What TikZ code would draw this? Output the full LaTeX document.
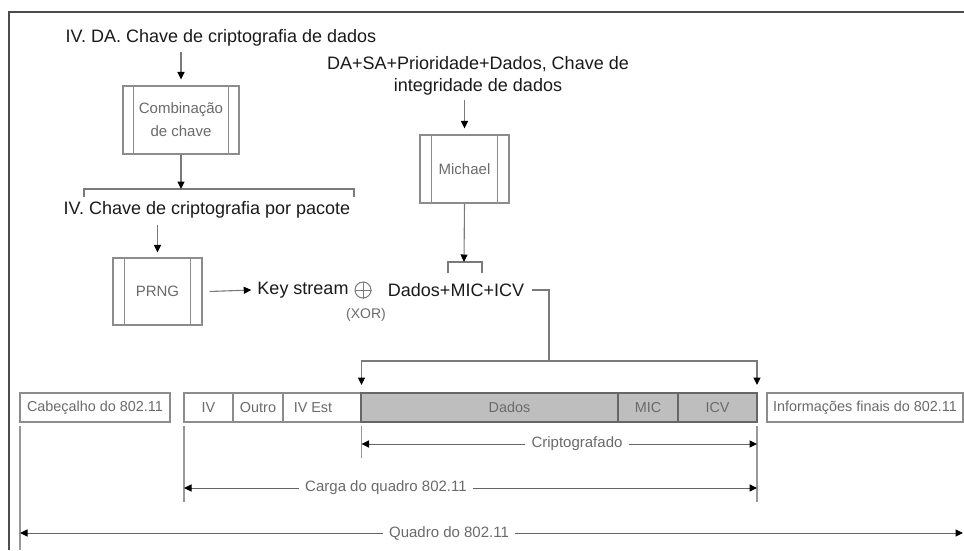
\documentclass[tikz,border=0pt]{standalone}
\usepackage{fontspec}
\setmainfont{Liberation Sans}
\usetikzlibrary{arrows.meta,calc}
\definecolor{linegray}{HTML}{7A7A7A}
\definecolor{boxgray}{HTML}{8C8C8C}
\definecolor{txtgray}{HTML}{6A6A6A}
\definecolor{fillgray}{HTML}{BEBEBE}
\definecolor{ink}{HTML}{1A1A1A}
\begin{document}
\begin{tikzpicture}[x=1pt,y=-1pt,
  tip/.style={-{Triangle[length=7.5pt,width=7pt,color=black]}},
  title/.style={font=\fontsize{18}{22}\selectfont, text=ink, inner sep=0pt, align=center},
  proc/.style={draw=boxgray, line width=1.1pt, text=txtgray,
    font=\fontsize{15}{23}\selectfont, align=center, inner sep=0pt},
  field/.style={draw=boxgray, line width=1.1pt, minimum height=29pt, inner sep=0pt,
    text=txtgray, font=\fontsize{14.4}{16}\selectfont},
  enc/.style={field, fill=fillgray, draw=black!60},
  conn/.style={draw=linegray, line width=1.1pt},
  tick/.style={draw=black!40, line width=1.6pt},
  dimline/.style={draw=black!60, line width=1pt},
  dimtext/.style={text=txtgray, font=\fontsize{15}{17}\selectfont, inner sep=6pt}
]
\useasboundingbox (0,0) rectangle (964,550);

% outer frame (top and left edges)
\draw[black!70, line width=1.3pt] (9,550) -- (9,12) -- (964,12);

% ---- key mixing branch ----
\node[title] (t1) at (221,38) {IV. DA. Chave de criptografia de dados};
\node[proc, minimum width=116pt, minimum height=68pt] (comb) at (181,120) {Combinação\\de chave};
\draw[boxgray, line width=1.1pt] ([xshift=11pt]comb.north west) -- ([xshift=11pt]comb.south west)
  ([xshift=-11pt]comb.north east) -- ([xshift=-11pt]comb.south east);
\draw[conn,tip,shorten >=6pt] ([yshift=-5pt]comb.north |- t1.south) -- (comb.north);

\coordinate (bk) at (181,189);
\coordinate (bkl) at (84,197);
\coordinate (bkr) at (354,197);
\draw[conn] (bkl) |- (bk) -| (bkr);
\draw[conn,tip] (comb.south) -- (bk);

\node[title] (t3) at (207,210) {IV. Chave de criptografia por pacote};
\node[proc, minimum width=89pt, minimum height=67pt] (prng) at (157.5,291.5) {PRNG};
\draw[boxgray, line width=1.1pt] ([xshift=12pt]prng.north west) -- ([xshift=12pt]prng.south west)
  ([xshift=-12pt]prng.north east) -- ([xshift=-12pt]prng.south east);
\draw[conn,tip,shorten >=5pt] ([yshift=-6pt]prng.north |- t3.south) -- (prng.north);

% ---- keystream XOR ----
\node[title] (ks) at (303,290) {Key stream};
\node[circle, draw=linegray, line width=1pt, minimum size=16pt, inner sep=0pt] (xor) at (363,290) {};
\draw[linegray, line width=1pt] (xor.north) -- (xor.south) (xor.west) -- (xor.east);
\node[text=txtgray, font=\fontsize{14}{16}\selectfont, inner sep=0pt] (xorlbl) at (366,315) {(XOR)};
\node[title] (dmi) at (456,290) {Dados+MIC+ICV};
\draw[conn,tip] ([xshift=7pt]prng.east) -- ([xshift=-6pt]ks.west);

% ---- MIC branch ----
\node[title] (t2) at (478,76) {DA+SA+Prioridade+Dados, Chave de\\integridade de dados};
\node[proc, minimum width=89pt, minimum height=68pt] (mich) at (464.5,169) {Michael};
\draw[boxgray, line width=1.1pt] ([xshift=12pt]mich.north west) -- ([xshift=12pt]mich.south west)
  ([xshift=-12pt]mich.north east) -- ([xshift=-12pt]mich.south east);
\draw[conn,tip,shorten >=6pt] ([yshift=-4pt]mich.north |- t2.south) -- (mich.north);
\coordinate (mb) at (464,262);
\coordinate (mbl) at (448,273);
\coordinate (mbr) at (482,273);
\draw[conn] (mbl) |- (mb) -| (mbr);
\draw[conn,tip] (mich.south) -- (mb);

% ---- route to encrypted part ----
\coordinate (split) at (549,361);
\coordinate (encL) at (361.5,385);
\coordinate (encR) at (757,385);
\draw[conn] ([xshift=8pt]dmi.east) -| (split);
\draw[conn,tip] (split) -| (encL);
\draw[conn,tip] (split) -| (encR);

% ---- 802.11 frame ----
\node[field, minimum width=150pt] (hdr) at (95,407.5) {Cabeçalho do 802.11};
\node[field, minimum width=49pt] (iv) at (208.5,407.5) {IV};
\node[field, minimum width=50pt] (outro) at (258,407.5) {Outro};
\node[field, minimum width=78pt] (ivest) at (322,407.5) {\hspace*{-18pt}IV Est};
\node[enc, minimum width=257pt] (dados) at (489.5,407.5) {\hspace*{40pt}Dados};
\node[enc, minimum width=60pt] (mic) at (648,407.5) {MIC};
\node[enc, minimum width=79pt] (icv) at (717.5,407.5) {ICV};
\node[field, minimum width=196pt] (info) at (865,407.5) {Informações finais do 802.11};

% ---- extent markers ----
\coordinate (cL) at (361.5,444);
\coordinate (cR) at (757,444);
\coordinate (gL) at (184,488);
\coordinate (gR) at (757,488);
\coordinate (qL) at (20,533);
\coordinate (qR) at (963,533);

\draw[tick] (361.5,426) -- (361.5,458);
\draw[tick] (757,426) -- (757,502);
\draw[tick] (184,426) -- (184,502);
\draw[tick] (20,426) -- (20,550);

\node[dimtext] (crip) at (577,444) {Criptografado};
\draw[dimline,tip] (crip.west) -- (cL);
\draw[dimline,tip] (crip.east) -- (cR);

\node[dimtext] (carga) at (386,488) {Carga do quadro 802.11};
\draw[dimline,tip] (carga.west) -- (gL);
\draw[dimline,tip] (carga.east) -- (gR);

\node[dimtext] (quadro) at (449,533) {Quadro do 802.11};
\draw[dimline,tip] (quadro.west) -- (qL);
\draw[dimline,tip] (quadro.east) -- (qR);
\end{tikzpicture}
\end{document}
